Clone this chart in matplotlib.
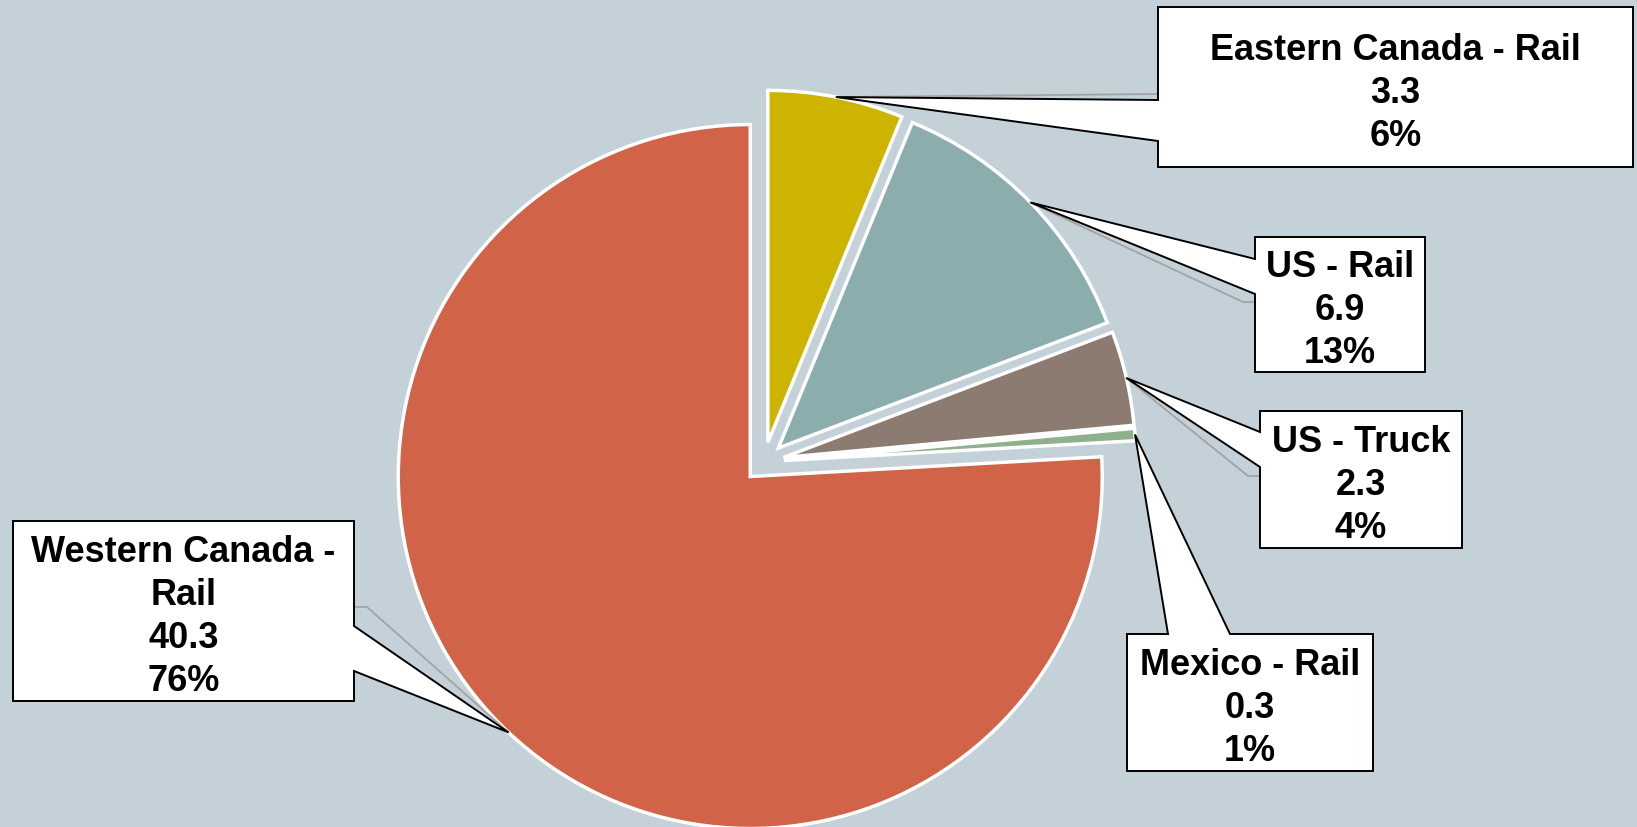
import matplotlib
matplotlib.use('Agg')
import matplotlib.pyplot as plt
import numpy as np
from matplotlib.patches import Polygon

# ---- data ----
categories = ['Eastern Canada - Rail', 'US - Rail', 'US - Truck', 'Mexico - Rail', 'Western Canada - Rail']
label_lines = [['Eastern Canada - Rail'], ['US - Rail'], ['US - Truck'], ['Mexico - Rail'],
               ['Western Canada -', 'Rail']]
values = [3.3, 6.9, 2.3, 0.3, 40.3]
colors = ['#CCB400', '#8CADAE', '#8C7B70', '#8FB08C', '#D16349']

# ---- layout (pixel coords, origin top-left) ----
W, H = 1637, 828
BG = '#C5D1D8'
boxes = [(1158, 8, 1633, 168), (1255, 238, 1425, 373), (1260, 412, 1462, 549),
         (1127, 635, 1373, 772), (13, 522, 354, 702)]
sides = ['left', 'left', 'left', 'top', 'right']
bases = [(101, 142), (260, 295), (433, 468), (1168, 1230), (627, 672)]
first_base = [52, 39, 40, 40, 40]
leaders = [[(1158, 95)], [(1243, 303), (1255, 303)], [(1248, 477), (1260, 477)], [],
           [(367, 608), (354, 608)]]
LINE_SP = 43

fig = plt.figure(figsize=(W / 100, H / 100), dpi=100, facecolor=BG)
ax = fig.add_axes([0, 0, 1, 1])
ax.set_facecolor(BG)

R = 352
cx, cy = 764, H - 463
wedges, _ = ax.pie(values, colors=colors, startangle=90, counterclock=False,
                   radius=R, center=(cx, cy), explode=[20] * len(values),
                   wedgeprops=dict(edgecolor='white', linewidth=2.5))
ax.set_xlim(0, W)
ax.set_ylim(0, H)
ax.set_aspect('equal', adjustable='box')
ax.axis('off')

total = sum(values)


def P(x, y):
    return (x, H - y)


for i, w in enumerate(wedges):
    mid = np.deg2rad((w.theta1 + w.theta2) / 2)
    tip = (w.center[0] + w.r * np.cos(mid), w.center[1] + w.r * np.sin(mid))
    x0, y0, x1, y1 = boxes[i]
    a, b = bases[i]
    s = sides[i]
    if s == 'left':
        verts = [P(x0, y0), P(x1, y0), P(x1, y1), P(x0, y1), P(x0, b), tip, P(x0, a)]
    elif s == 'right':
        verts = [P(x0, y0), P(x1, y0), P(x1, a), tip, P(x1, b), P(x1, y1), P(x0, y1)]
    else:
        verts = [P(x0, y0), P(a, y0), tip, P(b, y0), P(x1, y0), P(x1, y1), P(x0, y1)]

    # gray leader line
    if leaders[i]:
        pts = [tip] + [P(*p) for p in leaders[i]]
        ax.plot([p[0] for p in pts], [p[1] for p in pts], color='#A3A3A3', lw=1.3, zorder=3)

    ax.add_patch(Polygon(verts, closed=True, facecolor='white', edgecolor='black',
                         lw=1.4, zorder=4, joinstyle='miter'))

    pct = round(values[i] / total * 100)
    lines = label_lines[i] + [f'{values[i]:.1f}', f'{pct}%']
    xc = (x0 + x1) / 2
    for j, ln in enumerate(lines):
        ax.text(xc, H - (y0 + first_base[i] + j * LINE_SP), ln, ha='center', va='baseline',
                fontsize=26, fontweight='bold', family=['Liberation Sans', 'DejaVu Sans'],
                color='black', zorder=5)

fig.savefig('out.png', dpi=100, facecolor=BG)
